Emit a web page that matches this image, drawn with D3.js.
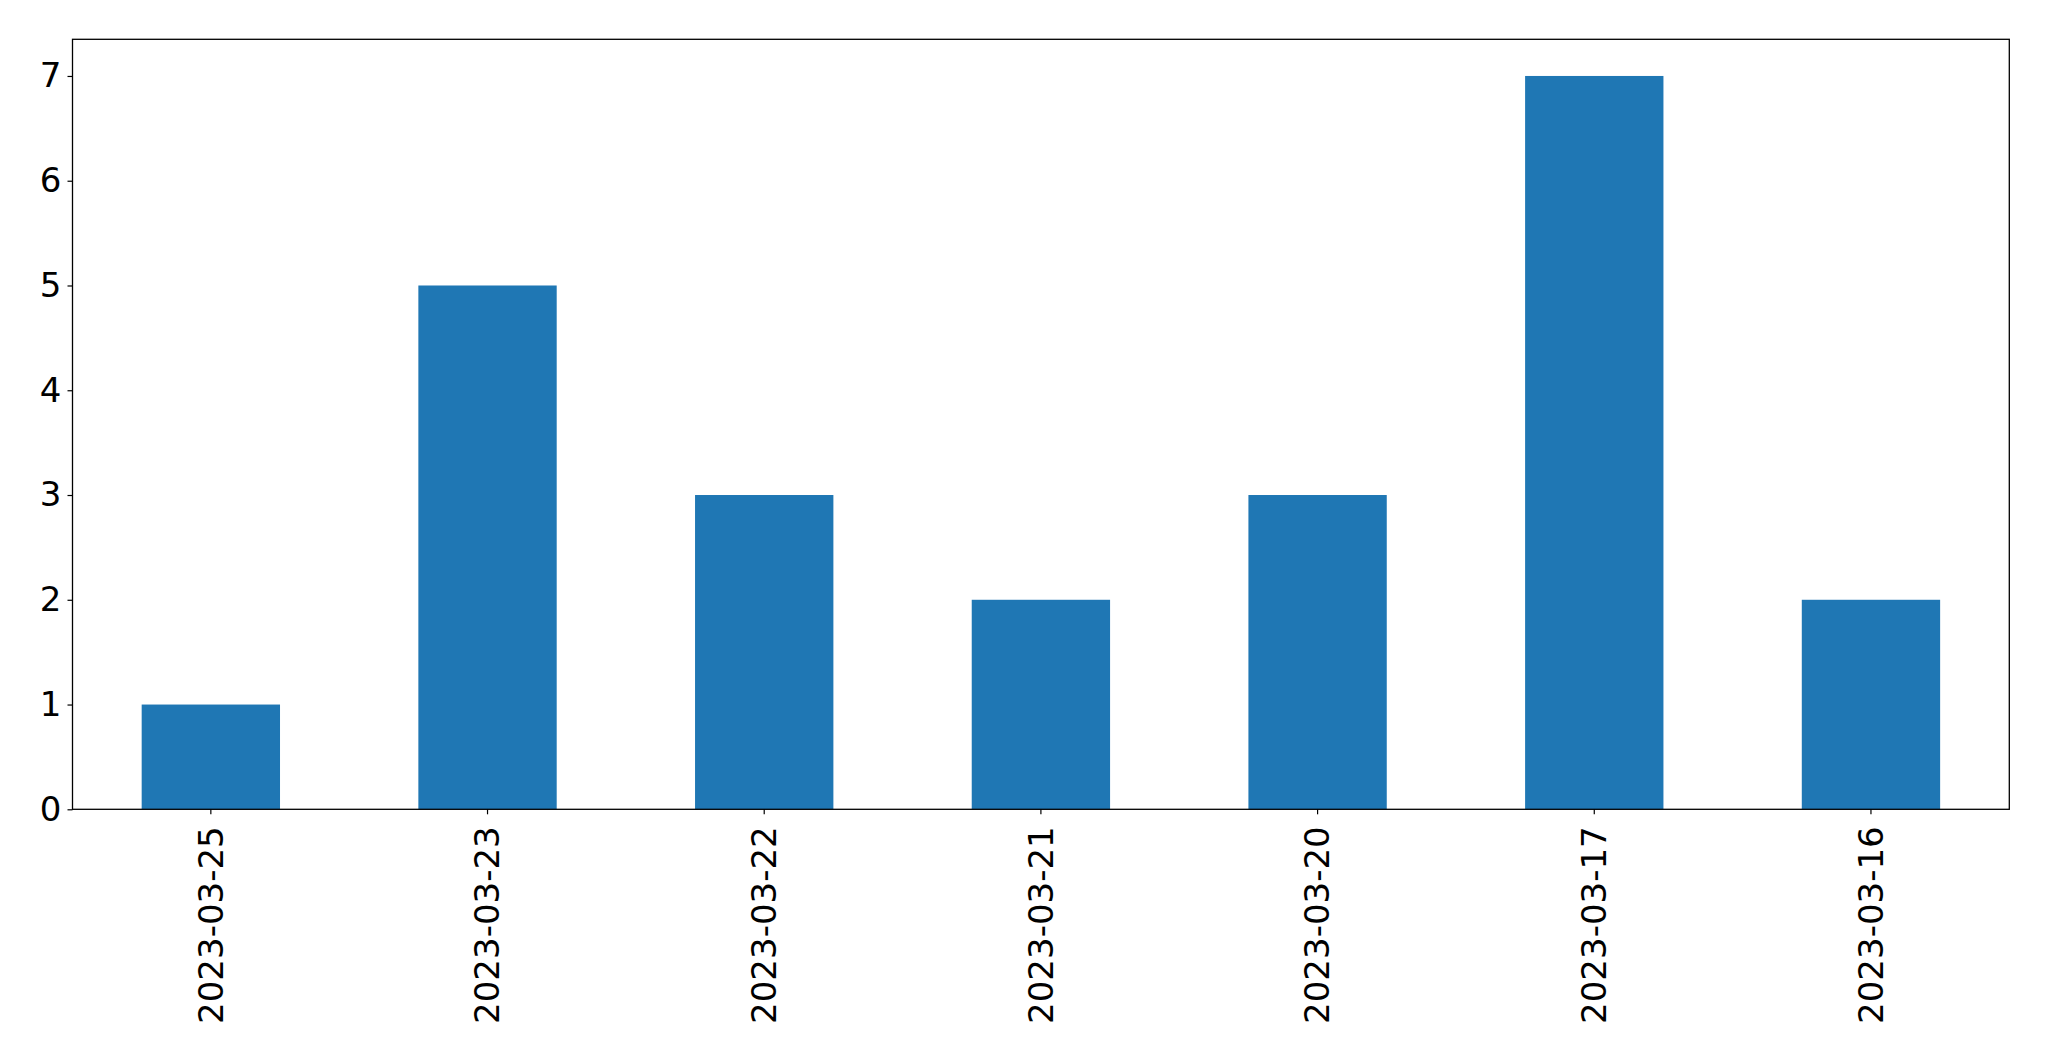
<!DOCTYPE html>
<html><head><meta charset="utf-8">
<script src="https://cdn.jsdelivr.net/npm/d3@7"></script>
<style>html,body{margin:0;padding:0;background:#fff;}svg{display:block;}</style>
</head><body>
<script>
const categories = ["2023-03-25","2023-03-23","2023-03-22","2023-03-21","2023-03-20","2023-03-17","2023-03-16"];
const values = [1,5,3,2,3,7,2];
const yTicks = [0,1,2,3,4,5,6,7];

const W = 2049, H = 1061;
const m = {left: 72.5, right: 2049-2009.3, top: 39.3, bottom: 1061-809.3};
const svg = d3.select("body").append("svg").attr("width", W).attr("height", H);
const iw = W - m.left - m.right, ih = H - m.top - m.bottom;
const g = svg.append("g").attr("transform", `translate(${m.left},${m.top})`);

const x = d3.scaleBand().domain(categories).range([0, iw]).paddingInner(0.5).paddingOuter(0.25);
const y = d3.scaleLinear().domain([0, 7.35]).range([ih, 0]);

g.selectAll("rect.bar").data(values).join("rect").attr("class","bar")
  .attr("x", (d,i) => x(categories[i]))
  .attr("width", x.bandwidth())
  .attr("y", d => y(d))
  .attr("height", d => y(0) - y(d))
  .attr("fill", "#1f77b4");

const font = "DejaVu Sans";
const yAxis = g.append("g").call(d3.axisLeft(y).tickValues(yTicks).tickSize(5).tickPadding(6).tickFormat(d3.format("d")));
yAxis.select(".domain").remove();
yAxis.selectAll("line").attr("stroke","#000").attr("stroke-width",1.2);
yAxis.selectAll("text").attr("font-family", font).attr("font-size", 34).attr("fill","#000");

const xAxis = g.append("g").attr("transform", `translate(0,${ih})`)
  .call(d3.axisBottom(x).tickSize(5).tickPadding(0));
xAxis.select(".domain").remove();
xAxis.selectAll("line").attr("stroke","#000").attr("stroke-width",1.2);
xAxis.selectAll("text").attr("font-family", font).attr("font-size", 34).attr("fill","#000")
  .attr("transform","rotate(-90)")
  .attr("text-anchor","end")
  .attr("x", -17).attr("y", 0).attr("dy","0.35em");

g.append("rect").attr("x",0).attr("y",0).attr("width",iw).attr("height",ih)
  .attr("fill","none").attr("stroke","#000").attr("stroke-width",1.3);
</script>
</body></html>
